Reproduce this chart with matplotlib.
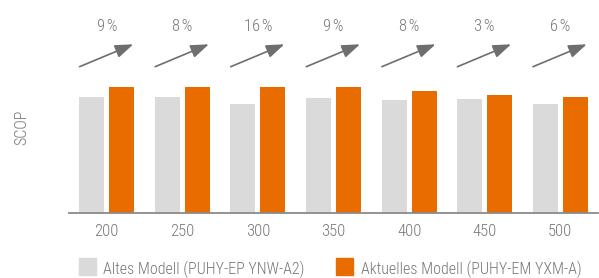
import matplotlib.pyplot as plt
from matplotlib.patches import Rectangle
import numpy as np

plt.rcParams['font.family'] = ['Roboto Condensed', 'DejaVu Sans']
plt.rcParams['font.weight'] = 'light'

# SCOP-Werte (relative Einheiten)
modelle = ['200', '250', '300', '350', '400', '450', '500']
altes_modell = [5.78, 5.78, 5.42, 5.73, 5.62, 5.68, 5.43]
aktuelles_modell = [6.28, 6.28, 6.28, 6.28, 6.08, 5.88, 5.78]
zuwachs = ['9', '8', '16', '9', '8', '3', '6']

grau = '#d9dad9'
orange = '#e86c00'
textfarbe = '#777777'
pfeilfarbe = '#6e6e6e'

W, H = 599, 278
fig = plt.figure(figsize=(W / 100, H / 100), dpi=100)
ax = fig.add_axes([69 / W, (H - 212.5) / H, (598 - 69) / W, 212.5 / H])

x = np.arange(len(modelle))
ax.bar(x - 0.198, altes_modell, width=0.33, color=grau)
ax.bar(x + 0.198, aktuelles_modell, width=0.33, color=orange)

for i, txt in enumerate(zuwachs):
    ax.annotate('', xy=(i + 0.35, 8.41), xytext=(i - 0.36, 7.29),
                arrowprops=dict(arrowstyle='-|>,head_length=1.1,head_width=0.4',
                                color=pfeilfarbe, lw=1.2, shrinkA=0, shrinkB=0,
                                mutation_scale=10))
    ax.text(i, 9.3, txt + '\u200a%', ha='center', va='center', fontsize=12, color=textfarbe)

ax.set_xlim(-0.5, 6.5)
ax.set_ylim(0, 212.5 / 20)
ax.set_xticks(x)
ax.set_xticklabels(modelle)
ax.set_yticks([])
ax.tick_params(axis='x', length=0, pad=8, labelsize=12, colors=textfarbe)
for s in ['top', 'right', 'left']:
    ax.spines[s].set_visible(False)
ax.spines['bottom'].set_color('#8a8a8a')
ax.spines['bottom'].set_linewidth(1.3)

fig.text(21.5 / W, 1 - 127.5 / H, 'SCOP', rotation=90, ha='center', va='center',
         fontsize=11.5, color=textfarbe)

# Legende
fig.patches.append(Rectangle((79 / W, 1 - 275 / H), 17 / W, 17 / H,
                             transform=fig.transFigure, color=grau))
fig.text(103 / W, 1 - 269 / H, 'Altes Modell (PUHY-EP YNW-A2)', ha='left', va='center',
         fontsize=11.5, color=textfarbe)
fig.patches.append(Rectangle((336 / W, 1 - 275 / H), 17 / W, 17 / H,
                             transform=fig.transFigure, color=orange))
fig.text(361 / W, 1 - 269 / H, 'Aktuelles Modell (PUHY-EM YXM-A)', ha='left', va='center',
         fontsize=11.5, color=textfarbe)

fig.savefig('out.png', dpi=100)
